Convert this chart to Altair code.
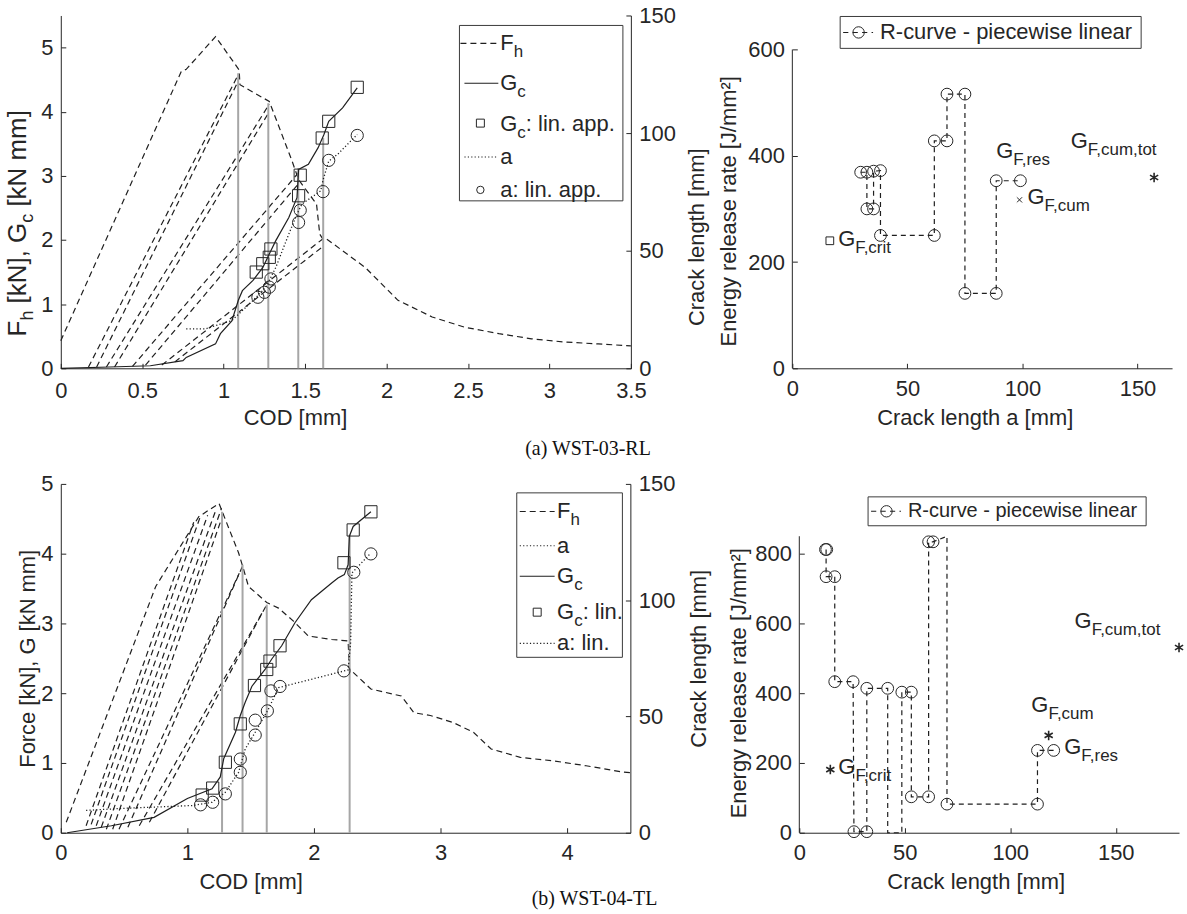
import altair as alt
import pandas as pd

# ============================ DATA ============================
# ---- (a) WST-03-RL : force / G_c / crack length vs COD ----
A_ENV_COD = [0.00, 0.74, 0.77, 0.95, 1.095, 1.10, 1.28, 1.42, 1.46, 1.57, 1.59, 1.61, 1.63, 1.87, 2.07, 2.28, 2.48, 2.69, 2.89, 3.09, 3.30, 3.50]
A_ENV_F = [0.43, 4.63, 4.66, 5.17, 4.65, 4.42, 4.16, 3.23, 2.94, 2.56, 2.09, 2.01, 2.02, 1.57, 1.06, 0.80, 0.64, 0.54, 0.46, 0.41, 0.38, 0.35]
A_RL_COD0 = [0.17, 0.22, 0.28, 0.33, 0.44, 0.52, 0.62, 0.70]
A_RL_F0 = [0.02, 0.02, 0.02, 0.02, 0.03, 0.05, 0.05, 0.10]
A_RL_COD1 = [1.09, 1.09, 1.28, 1.28, 1.46, 1.46, 1.61, 1.61]
A_RL_F1 = [4.58, 4.48, 4.12, 4.00, 3.05, 2.88, 2.02, 1.90]
A_CUT_COD = [1.089, 1.274, 1.458, 1.611]
A_CUT_TOP = [4.60, 4.13, 3.12, 3.59]
A_GC_COD = [0.00, 0.30, 0.55, 0.75, 0.77, 0.95, 0.98, 1.05, 1.09, 1.115, 1.18, 1.24, 1.28, 1.32, 1.40, 1.45, 1.46, 1.52, 1.58, 1.615, 1.645, 1.73, 1.82]
A_GC_VAL = [0.00, 0.02, 0.04, 0.12, 0.17, 0.38, 0.54, 0.74, 1.06, 1.21, 1.37, 1.57, 1.78, 1.99, 2.35, 2.66, 3.10, 3.18, 3.44, 3.64, 3.85, 4.06, 4.37]
A_GCL_COD = [1.20, 1.24, 1.28, 1.29, 1.46, 1.47, 1.605, 1.645, 1.82]
A_GCL_VAL = [1.50, 1.63, 1.73, 1.86, 2.69, 3.01, 3.59, 3.85, 4.38]
A_A_COD = [0.77, 0.89, 1.05, 1.18, 1.26, 1.32, 1.40, 1.45, 1.48, 1.595, 1.61, 1.645, 1.70, 1.82]
A_A_MM = [16.8, 16.8, 20.3, 28.8, 34.5, 42.9, 57.1, 65.5, 69.8, 75.4, 80.0, 88.1, 91.0, 99.4]
A_AL_COD = [1.21, 1.25, 1.28, 1.29, 1.46, 1.47, 1.61, 1.645, 1.82]
A_AL_MM = [30.2, 32.3, 34.5, 38.0, 62.0, 67.2, 75.1, 88.4, 99.0]

# ---- (a) R-curve ----
RA_A = [29.7, 32.4, 32.4, 35.3, 35.3, 38.3, 38.3, 61.7, 61.7, 67.2, 67.2, 75.0, 75.0, 88.6, 88.6, 99.1]
RA_G = [369, 369, 300, 300, 371, 372, 250, 250, 428, 428, 516, 516, 141, 141, 353, 353]
RA_CRIT = (16.3, 240)
RA_CUM = (98.7, 317)
RA_TOT = (157.2, 359)

# ---- (b) WST-04-TL : force / G_c / crack length vs COD ----
B_ENV_COD = [0.043, 0.75, 1.09, 1.25, 1.30, 1.405, 1.445, 1.483, 1.627, 1.72, 1.84, 1.955, 2.14, 2.27, 2.28, 2.45, 2.69, 2.79, 2.92, 3.10, 3.26, 3.40, 3.63, 3.89, 4.15, 4.44, 4.50]
B_ENV_F = [0.15, 3.53, 4.53, 4.72, 4.49, 4.01, 3.77, 3.53, 3.30, 3.22, 3.03, 2.82, 2.77, 2.75, 2.35, 2.06, 1.96, 1.72, 1.68, 1.58, 1.44, 1.20, 1.08, 1.03, 0.96, 0.87, 0.86]
B_RL_COD0 = [0.20, 0.24, 0.28, 0.32, 0.36, 0.41, 0.46, 0.53, 0.62, 0.70]
B_RL_F0 = [0.10, 0.12, 0.10, 0.08, 0.05, 0.05, 0.05, 0.08, 0.10, 0.15]
B_RL_COD1 = [1.05, 1.10, 1.16, 1.22, 1.27, 1.27, 1.41, 1.44, 1.60, 1.63]
B_RL_F1 = [4.45, 4.52, 4.55, 4.60, 4.65, 4.50, 3.72, 3.84, 3.18, 3.28]
B_CUT_COD = [1.274, 1.436, 1.627, 2.282]
B_CUT_TOP = [4.60, 3.84, 3.27, 4.27]
B_GC_COD = [0.05, 0.40, 0.737, 1.00, 1.195, 1.26, 1.287, 1.38, 1.418, 1.457, 1.51, 1.614, 1.667, 1.745, 1.85, 1.98, 2.14, 2.19, 2.24, 2.27, 2.28, 2.31, 2.45]
B_GC_VAL = [0.00, 0.10, 0.22, 0.49, 0.63, 0.80, 1.06, 1.44, 1.68, 1.87, 2.10, 2.34, 2.49, 2.68, 3.01, 3.34, 3.58, 3.65, 3.70, 3.84, 4.25, 4.39, 4.60]
B_GCL_COD = [1.117, 1.20, 1.30, 1.418, 1.53, 1.627, 1.653, 1.732, 2.237, 2.31, 2.45]
B_GCL_VAL = [0.54, 0.64, 1.01, 1.56, 2.11, 2.34, 2.46, 2.68, 3.87, 4.34, 4.60]
B_A_COD = [0.20, 0.50, 1.04, 1.195, 1.30, 1.405, 1.457, 1.536, 1.64, 1.72, 1.93, 2.19, 2.27, 2.29, 2.30, 2.45]
B_A_MM = [9.6, 10.5, 11.7, 13.1, 17.4, 26.0, 36.0, 43.2, 53.1, 62.4, 65.3, 68.9, 70.0, 82.0, 111.7, 120.3]
B_AL_COD = [1.104, 1.20, 1.30, 1.418, 1.418, 1.536, 1.536, 1.632, 1.66, 1.732, 2.237, 2.315, 2.45]
B_AL_MM = [12.0, 13.1, 16.7, 26.0, 31.7, 42.0, 48.4, 52.4, 61.0, 62.9, 69.6, 112.0, 119.9]

# ---- (b) R-curve ----
RB_A = [12.7, 12.7, 16.8, 16.8, 25.5, 25.9, 32.0, 32.0, 41.9, 41.9, 48.6, 48.6, 53.1, 53.1, 61.3, 61.3, 63.4, 70.0, 70.0, 112.9, 112.9, 120.6]
RB_G = [812, 734, 734, 433, 433, 3, 3, 414, 414, 0, 0, 403, 403, 103, 103, 834, 834, 850, 82, 82, 236, 236]
RB_CIRC_A = [12.4, 13.0, 12.7, 16.8, 16.8, 25.5, 25.9, 32.0, 32.0, 41.9, 48.6, 53.1, 53.1, 61.3, 61.3, 63.4, 70.0, 112.9, 112.9, 120.6]
RB_CIRC_G = [812, 812, 734, 734, 433, 433, 3, 3, 414, 414, 403, 403, 103, 103, 834, 834, 82, 82, 236, 236]
RB_CRIT = (14.7, 181)
RB_CUM = (118.2, 279)
RB_TOT = (180.0, 531)

# ============================ STYLE ============================
FONT = "Liberation Sans"
SERIF = "Liberation Serif"
INK = "#262626"
LINE = "#1f1f1f"
GRAY = "#a6a6a6"
FS = 22
SFS = 17
SUB_DY = 9
DASH = [6, 4]
DOT = [1.2, 2.2]
STAR = "M0,-1L0,1M-0.866,-0.5L0.866,0.5M-0.866,0.5L0.866,-0.5"
XMARK = "M-1,-1L1,1M-1,1L1,-1"

W = {" ": .278, "[": .278, "]": .278, ",": .278, ".": .278, ":": .278, "-": .333, "/": .278,
     "F": .611, "G": .778, "N": .722, "R": .722, "J": .5, "C": .722,
     "a": .556, "c": .5, "e": .556, "h": .556, "i": .222, "k": .5, "l": .222, "m": .833,
     "n": .556, "o": .556, "p": .556, "r": .333, "s": .5, "t": .278, "u": .556, "v": .5, "w": .722}

ONE = pd.DataFrame({"k": [0]})


def tw(s, fs):
    return sum(W.get(ch, 0.556) for ch in s) * fs


def rich(pieces, x, y, angle=0, fs=FS, sfs=SFS, sub_dy=SUB_DY, data=None):
    """Text with subscripts: one text mark per piece, offset along the reading direction."""
    src = data if data is not None else ONE
    out, off = [], 0.0
    for text, sub in pieces:
        f = sfs if sub else fs
        lead = len(text) - len(text.lstrip(" "))
        off += lead * W[" "] * f          # SVG drops leading blanks, so shift instead
        body = text.strip(" ")
        out.append(alt.Chart(src).mark_text(
            text=body, font=FONT, fontSize=f, color=INK, align="left", baseline="middle",
            angle=angle, dx=off, dy=sub_dy if sub else 0).encode(x=x, y=y))
        off += tw(body, f) + (len(text.rstrip(" ")) - len(text.strip(" ")) * 0) * 0
        off += (len(text) - len(text.rstrip(" "))) * W[" "] * f
    return out


def line_df(xs, ys):
    return pd.DataFrame({"x": xs, "y": ys, "i": list(range(len(xs)))})


def seg_df(x0, y0, x1, y1):
    rows = []
    for k in range(len(x0)):
        rows.append({"seg": k, "i": 0, "x": x0[k], "y": y0[k]})
        rows.append({"seg": k, "i": 1, "x": x1[k], "y": y1[k]})
    return pd.DataFrame(rows)


def V(v):
    return alt.value(v)


def box(x0, y0, x1, y1):
    return alt.Chart(ONE).mark_rect(fill="white", stroke="#3a3a3a", strokeWidth=1).encode(
        x=V(x0), x2=V(x1), y=V(y0), y2=V(y1))


def sample(x0, x1, y, dash=None):
    kw = {"color": LINE, "strokeWidth": 1.1}
    if dash:
        kw["strokeDash"] = dash
    return alt.Chart(ONE).mark_rule(**kw).encode(x=V(x0), x2=V(x1), y=V(y))


def sym(x, y, shape, size):
    return alt.Chart(ONE).mark_point(shape=shape, size=size, filled=False, color=INK,
                                     strokeWidth=1, opacity=1).encode(x=V(x), y=V(y))


def invisible(x, y0, y1):
    return alt.Chart(ONE).mark_rule(strokeOpacity=0, strokeWidth=1, color="white").encode(
        x=V(x), y=V(y0), y2=V(y1))


def caption(text, x, y):
    return alt.Chart(ONE).mark_text(text=text, font=SERIF, fontSize=20, color="#111111",
                                    align="center", baseline="middle").encode(x=V(x), y=V(y))


def left_panel(w, h, xdom, xticks, xtitle_x, xlabpad, ydom, ytitle, ytitle_x, atitle_x, atitle_y,
               env, rl, cuts, gc, gcl, aline, acirc, deco):
    X = alt.X("x:Q", scale=alt.Scale(domain=xdom, nice=False, zero=False),
              axis=alt.Axis(values=xticks, format="~g", title="COD [mm]", titleX=xtitle_x, titleY=49,
                            titleAngle=0, titleAlign="center", titleBaseline="middle",
                            labelFlush=False, labelOverlap=False, labelPadding=xlabpad))
    ysc = alt.Scale(domain=ydom, nice=False, zero=False)
    yax = alt.Axis(values=[0, 1, 2, 3, 4, 5], orient="left", title=ytitle, titleX=ytitle_x, titleY=h / 2,
                   titleAngle=270, titleAlign="center", titleBaseline="middle", labelOverlap=False)
    Y = alt.Y("y:Q", scale=ysc, axis=yax)
    Y0 = alt.Y("y0:Q", scale=ysc, axis=yax)
    A = alt.Y("y:Q", scale=alt.Scale(domain=[0, 150], nice=False, zero=False),
              axis=alt.Axis(values=[0, 50, 100, 150], orient="right", title="Crack length [mm]",
                            titleX=atitle_x, titleY=atitle_y, titleAngle=270, titleAlign="center",
                            titleBaseline="middle", labelOverlap=False))
    o = alt.Order("i:Q")
    cut_df = pd.DataFrame({"x": cuts[0], "y0": [0.0] * len(cuts[0]), "y1": cuts[1]})
    left = alt.layer(
        alt.Chart(line_df(*env)).mark_line(color=LINE, strokeWidth=1.2, strokeDash=DASH).encode(x=X, y=Y, order=o),
        alt.Chart(rl).mark_line(color=LINE, strokeWidth=1.2, strokeDash=DASH).encode(x=X, y=Y, detail="seg:N", order=o),
        alt.Chart(cut_df).mark_rule(color=GRAY, strokeWidth=2).encode(x=X, y=Y0, y2="y1:Q"),
        alt.Chart(line_df(*gc)).mark_line(color=LINE, strokeWidth=1.2).encode(x=X, y=Y, order=o),
        alt.Chart(line_df(*gcl)).mark_point(shape="square", size=150, filled=False, color=INK,
                                            strokeWidth=1, opacity=1).encode(x=X, y=Y),
        *deco,
    )
    right = alt.layer(
        alt.Chart(line_df(*aline)).mark_line(color=LINE, strokeWidth=1.3, strokeDash=DOT).encode(x=X, y=A, order=o),
        alt.Chart(line_df(*acirc)).mark_point(shape="circle", size=150, filled=False, color=INK,
                                              strokeWidth=1, opacity=1).encode(x=X, y=A),
    )
    return alt.layer(left, right).resolve_scale(y="independent").properties(width=w, height=h)


def right_panel(w, h, xdom, xtitle, xtitle_x, ydom, yticks, ytop, ytitle_x, ytitle_y,
                path, circ, marks, annots, legend):
    X = alt.X("x:Q", scale=alt.Scale(domain=xdom, nice=False, zero=False),
              axis=alt.Axis(values=[0, 50, 100, 150], title=xtitle, titleX=xtitle_x, titleY=49,
                            titleAngle=0, titleAlign="center", titleBaseline="middle",
                            labelFlush=False, labelOverlap=False, labelPadding=15))
    ysc = alt.Scale(domain=ydom, nice=False, zero=False)
    yax = alt.Axis(values=yticks, domain=False, title="Energy release rate [J/mm²]", titleX=ytitle_x,
                   titleY=ytitle_y, titleAngle=270, titleAlign="center", titleBaseline="middle",
                   labelOverlap=False)
    Y = alt.Y("y:Q", scale=ysc, axis=yax)
    Y0 = alt.Y("y0:Q", scale=ysc, axis=yax)
    o = alt.Order("i:Q")
    axis_df = pd.DataFrame({"x": [xdom[0]], "y0": [0], "y1": [ytop]})
    layers = [
        alt.Chart(axis_df).mark_rule(color=INK, strokeWidth=1).encode(x=X, y=Y0, y2="y1:Q"),
        alt.Chart(line_df(*path)).mark_line(color=LINE, strokeWidth=1.2, strokeDash=[5, 4]).encode(x=X, y=Y, order=o),
        alt.Chart(line_df(*circ)).mark_point(shape="circle", size=140, filled=False, color=INK,
                                             strokeWidth=1, opacity=1).encode(x=X, y=Y),
    ]
    for (mx, my), shape, size, sw in marks:
        layers.append(alt.Chart(pd.DataFrame({"x": [mx], "y": [my]})).mark_point(
            shape=shape, size=size, filled=False, color=INK, strokeWidth=sw, opacity=1).encode(x=X, y=Y))
    for (tx, ty), sub in annots:
        layers += rich([("G", False), (sub, True)], X, Y, data=pd.DataFrame({"x": [tx], "y": [ty]}))
    layers += legend
    return alt.layer(*layers).properties(width=w, height=h)


def rlegend(x0, y0, x1, y1, fs):
    cy = (y0 + y1) / 2
    return [
        box(x0, y0, x1, y1),
        sample(x0 + 3, x0 + 33, cy, [5.2, 4.3]),
        sym(x0 + 18.5, cy, "circle", 130),
        alt.Chart(ONE).mark_text(text="R-curve - piecewise linear", font=FONT, fontSize=fs, color=INK,
                                 align="left", baseline="middle").encode(x=V(x0 + 40), y=V(cy)),
    ]


# ============================ (a) ============================
A_W, A_H = 572, 354
a_title = rich([("F", False), ("h", True), (" [kN], G", False), ("c", True), (" [kN mm]", False)],
               V(-42.7), V(322), angle=270, fs=26, sfs=18, sub_dy=10)
a_legend = [
    box(400, 10, 564, 186),
    sample(401, 439, 28, DASH), *rich([("F", False), ("h", True)], V(441), V(28)),
    sample(405, 439, 68), *rich([("G", False), ("c", True)], V(441), V(68)),
    sym(421, 108, "square", 64), *rich([("G", False), ("c", True), (": lin. app.", False)], V(441), V(109)),
    sample(405, 439, 142, DOT), *rich([("a", False)], V(441), V(142)),
    sym(421, 175, "circle", 55), *rich([("a: lin. app.", False)], V(441), V(175)),
]
A1 = left_panel(
    A_W, A_H, [0, 3.5], [0, 0.5, 1, 1.5, 2, 2.5, 3, 3.5], 235, 17, [0, 5.5], "", -40, 66, 222,
    (A_ENV_COD, A_ENV_F), seg_df(A_RL_COD0, A_RL_F0, A_RL_COD1, A_RL_F1), (A_CUT_COD, A_CUT_TOP),
    (A_GC_COD, A_GC_VAL), (A_GCL_COD, A_GCL_VAL), (A_A_COD, A_A_MM), (A_AL_COD, A_AL_MM),
    a_title + a_legend + [caption("(a) WST-03-RL", 529, 435), invisible(-61, -14, 452)],
)
A2 = right_panel(
    381, A_H, [0, 165], "Crack length a [mm]", 183, [0, 664], [0, 200, 400, 600], 600, -64, 196,
    (RA_A, RA_G), (RA_A, RA_G),
    [(RA_CRIT, "square", 60, 1), (RA_CUM, XMARK, 28, 1), (RA_TOT, STAR, 90, 1.6)],
    [((19.9, 244), "F,crit"), ((88.6, 409), "F,res"), ((102.2, 322), "F,cum"), ((121.0, 428), "F,cum,tot")],
    rlegend(48, 1, 350, 33, 22),
)

# ============================ (b) ============================
B_W, B_H = 571.5, 350
b_legend = [
    box(457.5, 9, 563.5, 174),
    sample(460.5, 495.5, 27.7, DASH), *rich([("F", False), ("h", True)], V(498), V(27.7)),
    sample(460.5, 495.5, 62, DOT), *rich([("a", False)], V(498), V(62)),
    sample(460.5, 495.5, 92.7), *rich([("G", False), ("c", True)], V(498), V(92.7)),
    sym(478, 128.7, "square", 64), *rich([("G", False), ("c", True), (": lin.", False)], V(498), V(128.7)),
    sample(460.5, 495.5, 160, DOT), *rich([("a: lin.", False)], V(498), V(160)),
]
B1 = left_panel(
    B_W, B_H, [0, 4.5], [0, 1, 2, 3, 4], 190.5, 15, [0, 5], "Force [kN], G [kN mm]", -33.5, 68, 175,
    (B_ENV_COD, B_ENV_F), seg_df(B_RL_COD0, B_RL_F0, B_RL_COD1, B_RL_F1), (B_CUT_COD, B_CUT_TOP),
    (B_GC_COD, B_GC_VAL), (B_GCL_COD, B_GCL_VAL), (B_A_COD, B_A_MM), (B_AL_COD, B_AL_MM),
    b_legend + [caption("(b) WST-04-TL", 535.5, 417), invisible(-54.5, -18, 300)],
)
B2 = right_panel(
    381, B_H, [0, 180], "Crack length [mm]", 177, [0, 1000], [0, 200, 400, 600, 800], 850, -61, 199.5,
    (RB_A, RB_G), (RB_CIRC_A, RB_CIRC_G),
    [(RB_CRIT, STAR, 90, 1.6), (RB_CUM, STAR, 90, 1.6), (RB_TOT, STAR, 90, 1.6)],
    [((18.5, 188), "F,crit"), ((110.0, 365), "F,cum"), ((125.6, 246), "F,res"), ((130.5, 607), "F,cum,tot")],
    rlegend(69, 13, 348, 42, 20),
)

row1 = alt.hconcat(A1, A2, spacing=162, bounds="flush")
row2 = alt.hconcat(B1, B2, spacing=169, bounds="flush")

chart = alt.vconcat(row1, row2, spacing=0).properties(
    padding={"left": 0, "top": 0, "right": 0, "bottom": 0}
).configure_view(strokeWidth=0).configure_axis(
    labelFont=FONT, labelFontSize=FS, labelColor=INK, titleFont=FONT, titleFontSize=FS,
    titleFontWeight="normal", titleColor=INK, domainColor=INK, domainWidth=1, tickColor=INK,
    tickWidth=1, tickSize={"expr": "-5"}, labelPadding=13, grid=False,
)

chart.save("out.html", embed_options={"renderer": "svg", "actions": False})
